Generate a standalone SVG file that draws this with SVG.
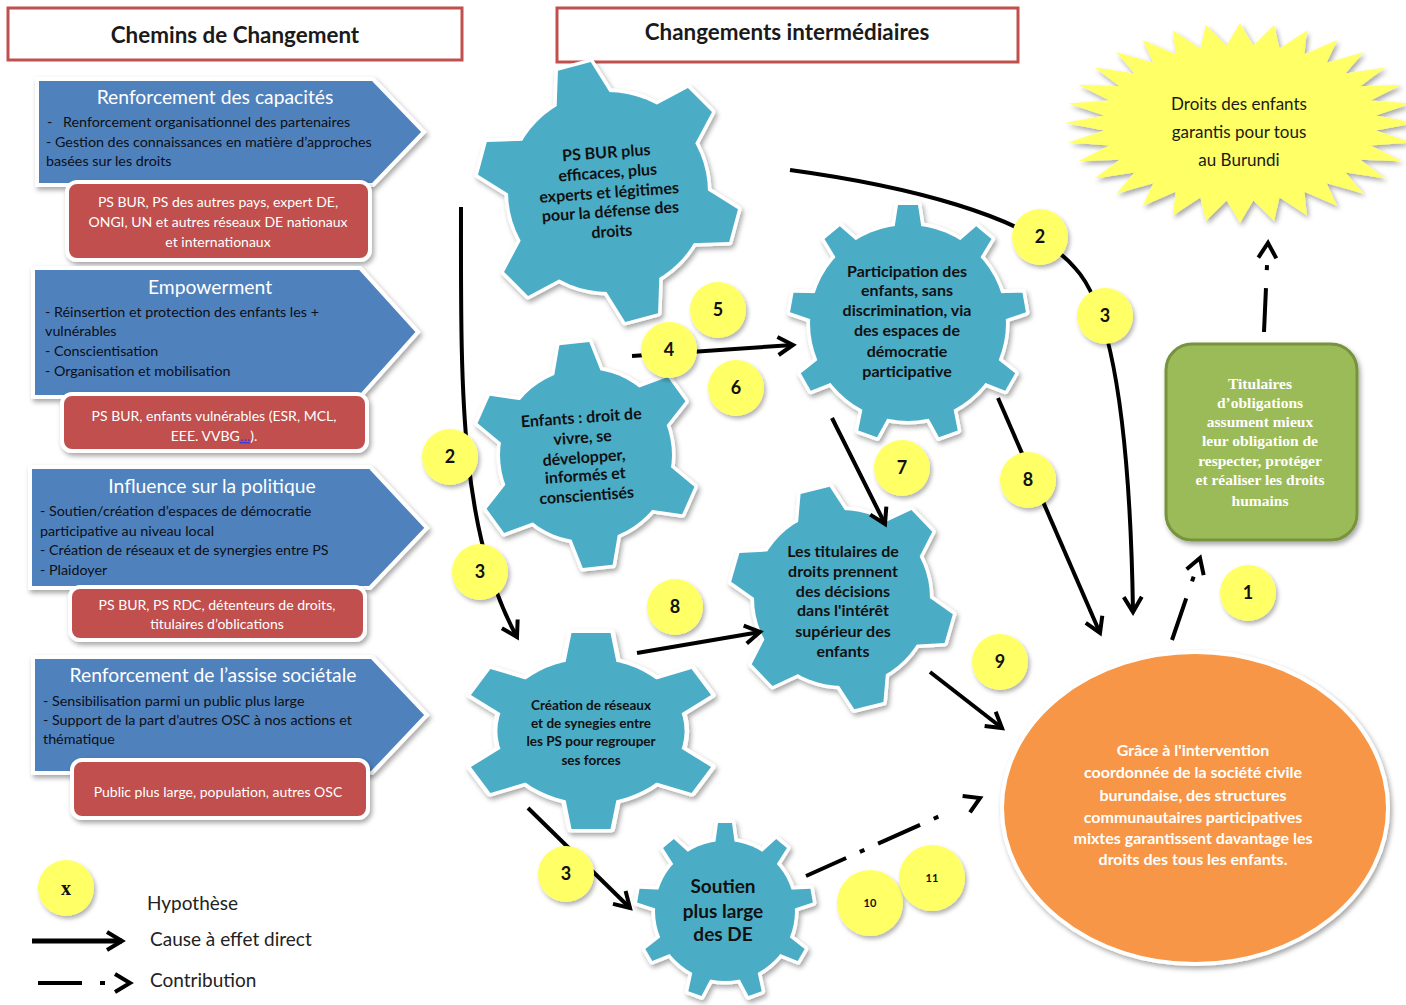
<svg xmlns="http://www.w3.org/2000/svg" width="1406" height="1005" viewBox="0 0 1406 1005">
<defs>
<style>
.title-box{fill:#fff;stroke:#c0504d;stroke-width:3}
.title{font-family:Lato,"Liberation Sans",sans-serif;font-weight:bold;font-size:22.4px;fill:#1a1a1a;text-anchor:middle}
.panel{fill:#4f81bd;stroke:#fff;stroke-width:4;filter:url(#shadow)}
.panel-title{font-family:Lato,"Liberation Sans",sans-serif;font-size:19.3px;fill:#fff;text-anchor:middle}
.panel-text{font-family:Lato,"Liberation Sans",sans-serif;font-size:14.3px;fill:#0c0f16}
.actors{fill:#c0504d;stroke:#fff;stroke-width:4;filter:url(#shadow)}
.actors-text{font-family:Lato,"Liberation Sans",sans-serif;font-size:14px;fill:#fff;text-anchor:middle}
.gear-rim{fill:#fff;stroke:#fff;stroke-width:7;stroke-linejoin:round;filter:url(#shadow)}
.gear-body{fill:#4bacc6}
.gear-text{font-family:Lato,"Liberation Sans",sans-serif;font-weight:bold;font-size:16px;fill:#111;text-anchor:middle}
.gear-text.sm{font-size:13.5px}
.gear-text.lg{font-size:19px}
.hyp{fill:#ffff66;filter:url(#soft)}
.hyp-text{font-family:Lato,"Liberation Sans",sans-serif;font-weight:bold;font-size:18px;fill:#111;text-anchor:middle}
.hyp-text.sm{font-size:11px}
.link{fill:none;stroke:#000;stroke-width:4;marker-end:url(#chev)}
.contrib{fill:none;stroke:#000;stroke-width:4;stroke-dasharray:44 18 5 60;marker-end:url(#chev)}
.contrib.long{stroke-dasharray:44 15 5 15 46 15 5 100}
.legend-text{font-family:Lato,"Liberation Sans",sans-serif;font-size:19px;fill:#222}
</style>
<filter id="shadow" x="-15%" y="-15%" width="135%" height="135%">
<feDropShadow dx="2" dy="3" stdDeviation="2.5" flood-color="#000" flood-opacity="0.35"/>
</filter>
<filter id="soft" x="-30%" y="-30%" width="170%" height="170%">
<feDropShadow dx="2" dy="3" stdDeviation="2" flood-color="#000" flood-opacity="0.3"/>
</filter>
<marker id="chev" viewBox="0 0 24 24" refX="20" refY="12" markerWidth="24" markerHeight="24" markerUnits="userSpaceOnUse" orient="auto">
<path d="M5,3 L20,12 L5,21" fill="none" stroke="#000" stroke-width="4"/>
</marker>

<!-- gear outlines, centred on the origin -->
<polygon id="toothA" points="-28,-94 -17,-130 17,-130 28,-94"/>
<g id="gearA"><circle r="100"/>
<use href="#toothA" transform="rotate(-15)"/><use href="#toothA" transform="rotate(45)"/><use href="#toothA" transform="rotate(105)"/>
<use href="#toothA" transform="rotate(165)"/><use href="#toothA" transform="rotate(225)"/><use href="#toothA" transform="rotate(285)"/></g>

<polygon id="toothB" points="-24,-80 -15,-112 15,-112 24,-80"/>
<g id="gearB"><circle r="86"/>
<use href="#toothB" transform="rotate(-6)"/><use href="#toothB" transform="rotate(54)"/><use href="#toothB" transform="rotate(114)"/>
<use href="#toothB" transform="rotate(174)"/><use href="#toothB" transform="rotate(234)"/><use href="#toothB" transform="rotate(294)"/></g>

<polygon id="toothC" points="-14,-92 -10,-118 10,-118 14,-92"/>
<g id="gearC"><circle r="98"/>
<use href="#toothC"/><use href="#toothC" transform="rotate(40)"/><use href="#toothC" transform="rotate(80)"/>
<use href="#toothC" transform="rotate(120)"/><use href="#toothC" transform="rotate(160)"/><use href="#toothC" transform="rotate(200)"/>
<use href="#toothC" transform="rotate(240)"/><use href="#toothC" transform="rotate(280)"/><use href="#toothC" transform="rotate(320)"/></g>

<polygon id="toothD" points="-25,-82 -15,-111 15,-111 25,-82"/>
<g id="gearD"><circle r="88"/>
<use href="#toothD" transform="rotate(-14)"/><use href="#toothD" transform="rotate(46)"/><use href="#toothD" transform="rotate(106)"/>
<use href="#toothD" transform="rotate(166)"/><use href="#toothD" transform="rotate(226)"/><use href="#toothD" transform="rotate(286)"/></g>

<polygon id="toothE" points="-20,-66 -15,-98 15,-98 20,-66"/>
<g id="gearE" transform="scale(1.3,1)"><circle r="72"/>
<use href="#toothE"/><use href="#toothE" transform="rotate(60)"/><use href="#toothE" transform="rotate(120)"/>
<use href="#toothE" transform="rotate(180)"/><use href="#toothE" transform="rotate(240)"/><use href="#toothE" transform="rotate(300)"/></g>

<polygon id="toothF" points="-10,-66 -7,-88 7,-88 10,-66"/>
<g id="gearF"><circle r="70"/>
<use href="#toothF"/><use href="#toothF" transform="rotate(40)"/><use href="#toothF" transform="rotate(80)"/>
<use href="#toothF" transform="rotate(120)"/><use href="#toothF" transform="rotate(160)"/><use href="#toothF" transform="rotate(200)"/>
<use href="#toothF" transform="rotate(240)"/><use href="#toothF" transform="rotate(280)"/><use href="#toothF" transform="rotate(320)"/></g>
</defs>

<rect width="1406" height="1005" fill="#fff"/>

<!-- column headers -->
<g id="header-chemins">
<rect class="title-box" x="8" y="8" width="454" height="52"/>
<text class="title" x="235" y="43">Chemins de Changement</text>
</g>
<g id="header-intermediaires">
<rect class="title-box" x="557" y="8" width="461" height="54"/>
<text class="title" x="787" y="40">Changements intermédiaires</text>
</g>

<!-- pathways of change -->
<g id="path-capacites">
<polygon class="panel" points="37,79 373,79 424,132 373,185 37,185"/>
<text class="panel-title" x="215" y="104">Renforcement des capacités</text>
<text class="panel-text" y="127"><tspan x="47">-</tspan><tspan x="63">Renforcement organisationnel des partenaires</tspan></text>
<text class="panel-text" x="46" y="147">- Gestion des connaissances en matière d’approches</text>
<text class="panel-text" x="46" y="166">basées sur les droits</text>
<rect class="actors" x="67" y="182" width="303" height="78" rx="10"/>
<text class="actors-text" x="218" y="207">PS BUR, PS des autres pays, expert DE,</text>
<text class="actors-text" x="218" y="227">ONGI, UN et autres réseaux DE nationaux</text>
<text class="actors-text" x="218" y="247">et internationaux</text>
</g>

<g id="path-empowerment">
<polygon class="panel" points="33,268 360,268 418,332 360,397 33,397"/>
<text class="panel-title" x="210" y="294">Empowerment</text>
<text class="panel-text" x="45" y="317">- Réinsertion et protection des enfants les +</text>
<text class="panel-text" x="45" y="336">vulnérables</text>
<text class="panel-text" x="45" y="356">- Conscientisation</text>
<text class="panel-text" x="45" y="376">- Organisation et mobilisation</text>
<rect class="actors" x="62" y="394" width="305" height="57" rx="10"/>
<text class="actors-text" x="214" y="421">PS BUR, enfants vulnérables (ESR, MCL,</text>
<text class="actors-text" x="214" y="441">EEE. VVBG<tspan fill="#3b3bd6" text-decoration="underline">…</tspan>).</text>
</g>

<g id="path-politique">
<polygon class="panel" points="30,467 370,467 427,528 370,588 30,588"/>
<text class="panel-title" x="212" y="493">Influence sur la politique</text>
<text class="panel-text" x="40" y="516">- Soutien/création d’espaces de démocratie</text>
<text class="panel-text" x="40" y="536">participative au niveau local</text>
<text class="panel-text" x="40" y="555">- Création de réseaux et de synergies entre PS</text>
<text class="panel-text" x="40" y="575">- Plaidoyer</text>
<rect class="actors" x="70" y="587" width="295" height="53" rx="10"/>
<text class="actors-text" x="217" y="610">PS BUR, PS RDC, détenteurs de droits,</text>
<text class="actors-text" x="217" y="629">titulaires d’oblications</text>
</g>

<g id="path-assise">
<polygon class="panel" points="33,657 372,657 427,715 372,773 33,773"/>
<text class="panel-title" x="213" y="682">Renforcement de l’assise sociétale</text>
<text class="panel-text" x="43" y="706">- Sensibilisation parmi un public plus large</text>
<text class="panel-text" x="43" y="725">- Support de la part d’autres OSC à nos actions et</text>
<text class="panel-text" x="43" y="744">thématique</text>
<rect class="actors" x="72" y="760" width="296" height="58" rx="10"/>
<text class="actors-text" x="218" y="797">Public plus large, population, autres OSC</text>
</g>

<!-- intermediate changes -->
<g id="gear-psbur">
<use href="#gearA" class="gear-rim" transform="translate(608,192)"/>
<use href="#gearA" class="gear-body" transform="translate(608,192)"/>
<g transform="rotate(-4 609 192)">
<text class="gear-text" x="609" y="158">PS BUR plus</text>
<text class="gear-text" x="609" y="178">efficaces, plus</text>
<text class="gear-text" x="609" y="198">experts et légitimes</text>
<text class="gear-text" x="609" y="217">pour la défense des</text>
<text class="gear-text" x="609" y="237">droits</text>
</g>
</g>

<g id="gear-enfants">
<use href="#gearB" class="gear-rim" transform="translate(586,455)"/>
<use href="#gearB" class="gear-body" transform="translate(586,455)"/>
<g transform="rotate(-4 584 458)">
<text class="gear-text" x="584" y="423">Enfants : droit de</text>
<text class="gear-text" x="584" y="443">vivre, se</text>
<text class="gear-text" x="584" y="463">développer,</text>
<text class="gear-text" x="584" y="481">informés et</text>
<text class="gear-text" x="584" y="501">conscientisés</text>
</g>
</g>

<g id="gear-participation">
<use href="#gearC" class="gear-rim" transform="translate(908,323)"/>
<use href="#gearC" class="gear-body" transform="translate(908,323)"/>
<text class="gear-text" x="907" y="277">Participation des</text>
<text class="gear-text" x="907" y="296">enfants, sans</text>
<text class="gear-text" x="907" y="316">discrimination, via</text>
<text class="gear-text" x="907" y="336">des espaces de</text>
<text class="gear-text" x="907" y="357">démocratie</text>
<text class="gear-text" x="907" y="377">participative</text>
</g>

<g id="gear-titulaires-droits">
<use href="#gearD" class="gear-rim" transform="translate(842,598)"/>
<use href="#gearD" class="gear-body" transform="translate(842,598)"/>
<text class="gear-text" x="843" y="557">Les titulaires de</text>
<text class="gear-text" x="843" y="577">droits prennent</text>
<text class="gear-text" x="843" y="597">des décisions</text>
<text class="gear-text" x="843" y="616">dans l'intérêt</text>
<text class="gear-text" x="843" y="637">supérieur des</text>
<text class="gear-text" x="843" y="657">enfants</text>
</g>

<g id="gear-reseaux">
<use href="#gearE" class="gear-rim" transform="translate(591,731)"/>
<use href="#gearE" class="gear-body" transform="translate(591,731)"/>
<text class="gear-text sm" x="591" y="710">Création de réseaux</text>
<text class="gear-text sm" x="591" y="728">et de synegies entre</text>
<text class="gear-text sm" x="591" y="746">les PS pour regrouper</text>
<text class="gear-text sm" x="591" y="765">ses forces</text>
</g>

<g id="gear-soutien">
<use href="#gearF" class="gear-rim" transform="translate(725,911)"/>
<use href="#gearF" class="gear-body" transform="translate(725,911)"/>
<text class="gear-text lg" x="723" y="893">Soutien</text>
<text class="gear-text lg" x="723" y="918">plus large</text>
<text class="gear-text lg" x="723" y="941">des DE</text>
</g>

<!-- outcome, obligations and impact -->
<g id="outcome-societe-civile">
<ellipse cx="1195" cy="808" rx="193" ry="156" fill="#f79646" stroke="#fff" stroke-width="4" filter="url(#shadow)"/>
<g font-family="Lato, 'Liberation Sans', sans-serif" font-weight="bold" font-size="16" fill="#fff" text-anchor="middle">
<text x="1193" y="756">Grâce à l'intervention</text>
<text x="1193" y="778">coordonnée de la société civile</text>
<text x="1193" y="801">burundaise, des structures</text>
<text x="1193" y="823">communautaires participatives</text>
<text x="1193" y="844">mixtes garantissent davantage les</text>
<text x="1193" y="865">droits des tous les enfants.</text>
</g>
</g>

<g id="outcome-titulaires-obligations">
<rect x="1166" y="344" width="191" height="196" rx="26" fill="#9bbb59" stroke="#77933c" stroke-width="3" filter="url(#shadow)"/>
<g font-family="'Liberation Serif', serif" font-weight="bold" font-size="15.5" fill="#fff" text-anchor="middle">
<text x="1260" y="389">Titulaires</text>
<text x="1260" y="408">d’obligations</text>
<text x="1260" y="427">assument mieux</text>
<text x="1260" y="446">leur obligation de</text>
<text x="1260" y="466">respecter, protéger</text>
<text x="1260" y="485">et réaliser les droits</text>
<text x="1260" y="506">humains</text>
</g>
</g>

<g id="impact-droits-enfants">
<g filter="url(#shadow)">
<polygon fill="#ffff66" transform="translate(1240,123) scale(175,100)" points="1,0 .776,.076 .981,.195 .746,.226 .924,.383 .688,.368 .831,.556 .603,.495 .707,.707 .495,.603 .556,.831 .368,.688 .383,.924 .226,.746 .195,.981 .076,.776 0,1 -.076,.776 -.195,.981 -.226,.746 -.383,.924 -.368,.688 -.556,.831 -.495,.603 -.707,.707 -.603,.495 -.831,.556 -.688,.368 -.924,.383 -.746,.226 -.981,.195 -.776,.076 -1,0 -.776,-.076 -.981,-.195 -.746,-.226 -.924,-.383 -.688,-.368 -.831,-.556 -.603,-.495 -.707,-.707 -.495,-.603 -.556,-.831 -.368,-.688 -.383,-.924 -.226,-.746 -.195,-.981 -.076,-.776 0,-1 .076,-.776 .195,-.981 .226,-.746 .383,-.924 .368,-.688 .556,-.831 .495,-.603 .707,-.707 .603,-.495 .831,-.556 .688,-.368 .924,-.383 .746,-.226 .981,-.195 .776,-.076"/>
</g>
<g font-family="Lato, 'Liberation Sans', sans-serif" font-size="17" fill="#1a1a1a" text-anchor="middle">
<text x="1239" y="110">Droits des enfants</text>
<text x="1239" y="138">garantis pour tous</text>
<text x="1239" y="166">au Burundi</text>
</g>
</g>

<!-- causal links -->
<g id="connectors">
<path class="link" d="M461,207 C461,380 458,530 517,637"/>
<path class="link" d="M790,170 C900,185 1030,215 1075,268 C1110,305 1130,420 1133,612"/>
<path class="link" d="M632,356 L793,345"/>
<path class="link" d="M832,418 L885,524"/>
<path class="link" d="M998,398 L1100,633"/>
<path class="link" d="M637,653 L760,632"/>
<path class="link" d="M930,672 L1002,728"/>
<path class="link" d="M528,808 L630,908"/>
<path class="contrib long" d="M806,876 L980,798"/>
<path class="contrib" d="M1172,640 L1200,558"/>
<path class="contrib" d="M1264,332 L1268,243"/>
</g>

<!-- hypotheses -->
<g id="hypotheses">
<g id="hyp-2a"><circle class="hyp" cx="450" cy="457" r="28"/><text class="hyp-text" x="450" y="463">2</text></g>
<g id="hyp-3a"><circle class="hyp" cx="480" cy="572" r="28"/><text class="hyp-text" x="480" y="578">3</text></g>
<g id="hyp-5"><circle class="hyp" cx="718" cy="310" r="28"/><text class="hyp-text" x="718" y="316">5</text></g>
<g id="hyp-4"><circle class="hyp" cx="669" cy="350" r="28"/><text class="hyp-text" x="669" y="356">4</text></g>
<g id="hyp-6"><circle class="hyp" cx="736" cy="388" r="28"/><text class="hyp-text" x="736" y="394">6</text></g>
<g id="hyp-2b"><circle class="hyp" cx="1040" cy="237" r="28"/><text class="hyp-text" x="1040" y="243">2</text></g>
<g id="hyp-3b"><circle class="hyp" cx="1105" cy="316" r="28"/><text class="hyp-text" x="1105" y="322">3</text></g>
<g id="hyp-7"><circle class="hyp" cx="902" cy="468" r="28"/><text class="hyp-text" x="902" y="474">7</text></g>
<g id="hyp-8a"><circle class="hyp" cx="1028" cy="480" r="28"/><text class="hyp-text" x="1028" y="486">8</text></g>
<g id="hyp-8b"><circle class="hyp" cx="675" cy="607" r="28"/><text class="hyp-text" x="675" y="613">8</text></g>
<g id="hyp-9"><circle class="hyp" cx="1000" cy="662" r="28"/><text class="hyp-text" x="1000" y="668">9</text></g>
<g id="hyp-1"><circle class="hyp" cx="1248" cy="593" r="28"/><text class="hyp-text" x="1248" y="599">1</text></g>
<g id="hyp-3c"><circle class="hyp" cx="566" cy="874" r="28"/><text class="hyp-text" x="566" y="880">3</text></g>
<g id="hyp-10"><circle class="hyp" cx="870" cy="903" r="33"/><text class="hyp-text sm" x="870" y="907">10</text></g>
<g id="hyp-11"><circle class="hyp" cx="932" cy="878" r="33"/><text class="hyp-text sm" x="932" y="882">11</text></g>
</g>

<!-- key -->
<g id="legend">
<circle class="hyp" cx="66" cy="888" r="28"/>
<text x="66" y="895" font-family="'Liberation Serif', serif" font-weight="bold" font-size="20" fill="#111" text-anchor="middle">x</text>
<text class="legend-text" x="147" y="910">Hypothèse</text>
<path d="M32,941 L122,941" fill="none" stroke="#000" stroke-width="5" marker-end="url(#chev)"/>
<text class="legend-text" x="150" y="946">Cause à effet direct</text>
<path class="contrib" d="M38,983 L130,983"/>
<text class="legend-text" x="150" y="987">Contribution</text>
</g>
</svg>
